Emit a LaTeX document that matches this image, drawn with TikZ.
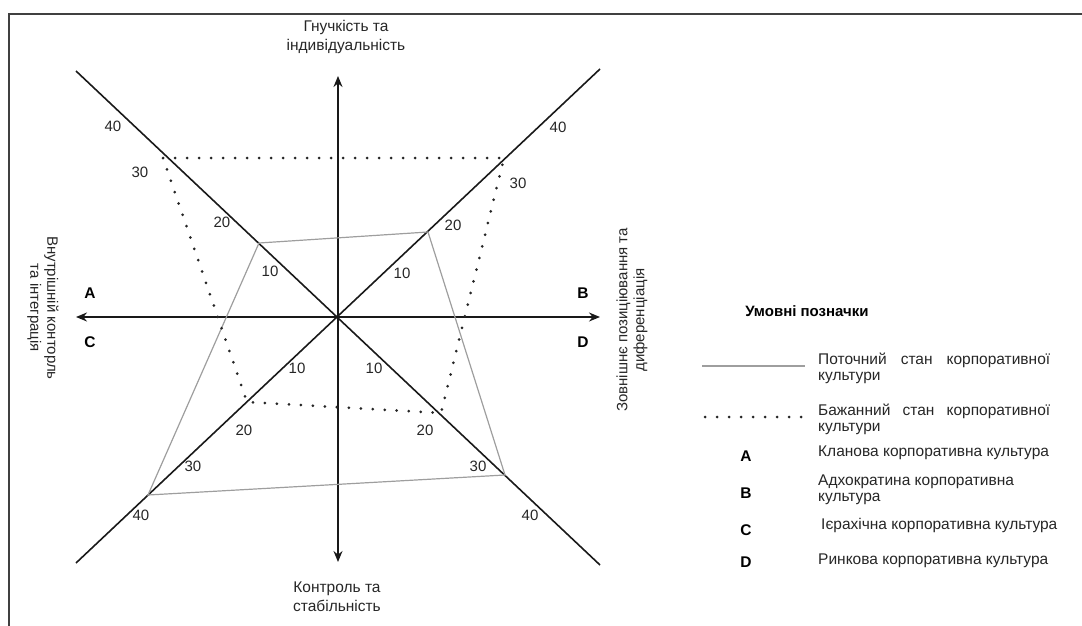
\documentclass[tikz,border=0pt]{standalone}
\usepackage{fontspec}
\setmainfont{Liberation Sans}
\usetikzlibrary{arrows.meta}

\tikzset{
  axis/.style={line width=1.6pt,draw=black!90,{Stealth[length=11pt,width=9pt]}-{Stealth[length=11pt,width=9pt]}},
  diag/.style={line width=1.6pt,draw=black!90},
  current/.style={line width=1.2pt,draw=black!38},
  desired/.style={line width=3pt,draw=black!85,line cap=round,dash pattern=on 0pt off 12pt},
  tick/.style={font=\fontsize{15}{17}\selectfont,text=black!85,inner sep=0pt},
  quad/.style={font=\bfseries\fontsize{15.5}{17}\selectfont,inner sep=0pt},
  caption/.style={font=\fontsize{15.5}{19}\selectfont,align=center,inner sep=0pt,text=black!85},
  sidecaption/.style={font=\fontsize{15}{17}\selectfont,align=center,inner sep=0pt,text=black!85},
  legtext/.style={font=\fontsize{15.5}{16}\selectfont,anchor=west,align=left,inner sep=0pt,text=black!85},
}

\begin{document}
\begin{tikzpicture}[x=1pt,y=-1pt]
  \useasboundingbox (0,0) rectangle (1082,626);

  %frame
  \draw[line width=1.3pt,black!75] (1082,14) -- (9,14) -- (9,626);

  %axes
  \coordinate (O) at (338,317);
  \coordinate (N) at (338,76);
  \coordinate (S) at (338,562);
  \coordinate (W) at (76,317);
  \coordinate (E) at (600,317);
  \draw[axis] (S) -- (N);
  \draw[axis] (E) -- (W);

  %diagonals
  \coordinate (NW) at (76,71);
  \coordinate (NE) at (600,69);
  \coordinate (SW) at (76,563);
  \coordinate (SE) at (600,565);
  \draw[diag] (NW) -- (SE);
  \draw[diag] (SW) -- (NE);

  %current state
  \coordinate (c1) at (259,243);
  \coordinate (c2) at (428,232);
  \coordinate (c3) at (505,475);
  \coordinate (c4) at (148,495);
  \draw[current] (c1) -- (c2) -- (c3) -- (c4) -- cycle;

  %desired state
  \coordinate (d1) at (163,158);
  \coordinate (d2) at (504,158);
  \coordinate (d3) at (441,413);
  \coordinate (d4) at (247,402);
  \draw[desired] (d1) -- (d2) -- (d3) -- (d4) -- cycle;

  %scale values
  \node[tick] (nw40) at (113,126) {40};
  \node[tick] (nw30) at (140,172) {30};
  \node[tick] (nw20) at (222,222) {20};
  \node[tick] (nw10) at (270,271) {10};
  \node[tick] (ne40) at (558,127) {40};
  \node[tick] (ne30) at (518,183) {30};
  \node[tick] (ne20) at (453,225) {20};
  \node[tick] (ne10) at (402,273) {10};
  \node[tick] (sw10) at (297,368) {10};
  \node[tick] (sw20) at (244,430) {20};
  \node[tick] (sw30) at (193,466) {30};
  \node[tick] (sw40) at (141,515) {40};
  \node[tick] (se10) at (374,368) {10};
  \node[tick] (se20) at (425,430) {20};
  \node[tick] (se30) at (478,466) {30};
  \node[tick] (se40) at (530,515) {40};

  %quadrant letters
  \node[quad] (qa) at (90,293) {A};
  \node[quad] (qc) at (90,342) {C};
  \node[quad] (qb) at (583,293) {B};
  \node[quad] (qd) at (583,342) {D};

  %axis captions
  \node[caption] (top) at (346,37) {Гнучкість та\\індивідуальність};
  \node[caption] (bottom) at (337,597) {Контроль та\\стабільність};
  \node[sidecaption,rotate=-90] (left) at (43,308) {Внутрішній конторль\\та інтеграція};
  \node[sidecaption,rotate=90] (right) at (632,320) {Зовнішнє позиціювання та\\диференціація};

  %legend
  \node[font=\bfseries\fontsize{15}{17}\selectfont,inner sep=0pt] (legend) at (807,311) {Умовні позначки};
  \coordinate (g1) at (702,366);
  \coordinate (g2) at (805,366);
  \draw[current] (g1) -- (g2);
  \node[legtext] (lcur) at (818,368) {\makebox[232pt][s]{Поточний стан корпоративної}\\культури};
  \coordinate (p1) at (705,417);
  \coordinate (p2) at (803,417);
  \draw[desired] (p1) -- (p2);
  \node[legtext] (ldes) at (818,419) {\makebox[232pt][s]{Бажанний стан корпоративної}\\культури};
  \node[quad] (la) at (746,456) {A};
  \node[legtext] (lta) at (818,453) {Кланова корпоративна культура};
  \node[quad] (lb) at (746,493) {B};
  \node[legtext] (ltb) at (818,490) {Адхократина корпоративна\\культура};
  \node[quad] (lc) at (746,530) {C};
  \node[legtext] (ltc) at (821,525) {Ієрахічна корпоративна культура};
  \node[quad] (ld) at (746,562) {D};
  \node[legtext] (ltd) at (818,561) {Ринкова корпоративна культура};
\end{tikzpicture}
\end{document}
